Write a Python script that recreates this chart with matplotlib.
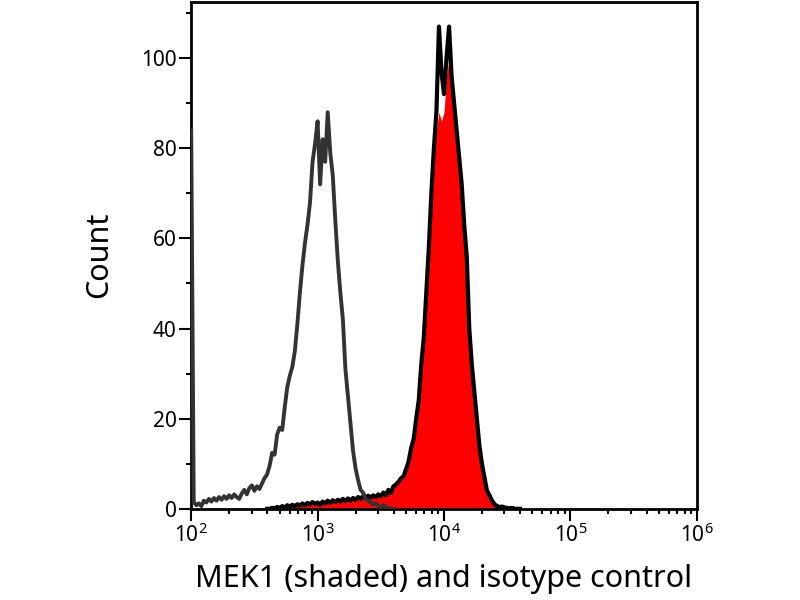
import matplotlib.pyplot as plt
import numpy as np
from matplotlib.ticker import FixedLocator, LogLocator, NullFormatter, MultipleLocator

plt.rcParams['font.family'] = ['Noto Sans', 'DejaVu Sans']

# isotype control histogram, channels every 0.02 decade from 10^2.00 to 10^3.60
iso_log_start, iso_log_stop = 2.0, 3.6
iso_counts = [84, 1.5, 0.8, 1.2, 0.6, 1.8, 1.4, 2.2, 1.6, 2.4,
              1.8, 2.6, 2.0, 2.8, 2.2, 3.0, 2.4, 3.2, 2.6, 2.2,
              3.4, 4.2, 3.2, 4.6, 5.2, 4.0, 5.0, 4.4, 5.6, 6.8,
              7.6, 9.5, 12.4, 12.0, 16.5, 18.0, 17.5, 22.5, 27.0, 29.5,
              31.5, 35.0, 41.0, 48.0, 54.0, 59.0, 63.0, 68.0, 77.0, 81.0,
              86.0, 72.0, 82.0, 77.0, 88.0, 79.0, 74.0, 64.0, 55.0, 48.0,
              42.0, 31.0, 25.0, 19.0, 13.0, 9.0, 6.4, 4.2, 3.6, 2.2,
              1.8, 1.4, 1.0, 1.2, 0.6, 0.4, 0.8, 0.3, 0.2, 0.0, 0.0]

# MEK1 histogram (outline), channels every 0.02 decade from 10^2.60 to 10^4.60
mek_log_start, mek_log_stop = 2.6, 4.6
mek_counts = [0, 0, 0.2, 0.1, 0.4, 0.2, 0.6, 0.3, 0.8, 0.5,
              0.9, 0.6, 1.0, 0.7, 1.2, 0.8, 1.3, 1.0, 1.5, 1.1,
              1.4, 0.9, 1.6, 1.2, 1.8, 1.3, 1.9, 1.5, 2.0, 1.6,
              2.2, 1.7, 2.3, 1.8, 2.4, 2.0, 2.6, 2.2, 2.8, 2.4,
              2.9, 2.5, 3.0, 2.6, 3.2, 2.8, 3.6, 3.0, 4.2, 3.5,
              5.0, 5.4, 6.0, 6.8, 7.2, 8.8, 10.5, 13.5, 15.5, 20.0,
              24.0, 32.0, 38.0, 48.0, 58.0, 70.0, 80.0, 88.0, 107.0, 97.0,
              92.0, 100.0, 107.0, 96.0, 90.0, 84.0, 78.0, 72.0, 63.0, 56.0,
              40.0, 32.0, 26.0, 20.0, 14.0, 10.0, 7.0, 4.0, 3.0, 1.8,
              1.0, 0.6, 0.4, 0.5, 0.3, 0.2, 0.1, 0.2, 0.0, 0.0, 0.0]
# shaded area sits a bit lower than the outline at the top (10^3.94 .. 10^4.10)
mek_fill_peak = [84, 88, 86, 88, 96, 100, 94, 86, 82]
peak_first = 67

xtick_values = [1e2, 1e3, 1e4, 1e5, 1e6]
xtick_labels = ['$\\mathregular{10^2}$', '$\\mathregular{10^3}$', '$\\mathregular{10^4}$',
                '$\\mathregular{10^5}$', '$\\mathregular{10^6}$']
ytick_values = [0, 20, 40, 60, 80, 100]

iso_x = 10 ** np.linspace(iso_log_start, iso_log_stop, len(iso_counts))
mek_x = 10 ** np.linspace(mek_log_start, mek_log_stop, len(mek_counts))
mek_fill = list(mek_counts)
mek_fill[peak_first:peak_first + len(mek_fill_peak)] = mek_fill_peak

fig = plt.figure(figsize=(8, 6), dpi=100)
ax = fig.add_axes([0.239, 0.152, 0.632, 0.845])

ax.fill_between(mek_x, 0, mek_fill, color='#ff0000', linewidth=0, zorder=1)
ax.plot(mek_x, mek_counts, color='black', linewidth=3, zorder=2)
ax.plot(iso_x, iso_counts, color='#333333', linewidth=2.8, zorder=3)

ax.set_xscale('log')
ax.set_xlim(1e2, 1e6)
ax.set_ylim(0, 112.5)

ax.xaxis.set_major_locator(FixedLocator(xtick_values))
ax.set_xticklabels(xtick_labels)
ax.xaxis.set_minor_locator(LogLocator(base=10, subs=np.arange(2, 10)))
ax.xaxis.set_minor_formatter(NullFormatter())
ax.set_yticks(ytick_values)
ax.yaxis.set_minor_locator(MultipleLocator(10))

for side in ['left', 'right', 'top', 'bottom']:
    ax.spines[side].set_linewidth(2)
ax.tick_params(which='major', direction='out', length=8.5, width=1.5, labelsize=15, pad=2)
ax.tick_params(which='minor', direction='out', length=3.8, width=1.5)

ax.set_xlabel('MEK1 (shaded) and isotype control', fontsize=22, labelpad=12)
ax.set_ylabel('Count', fontsize=22, labelpad=19)

plt.savefig('out.png', dpi=100)
